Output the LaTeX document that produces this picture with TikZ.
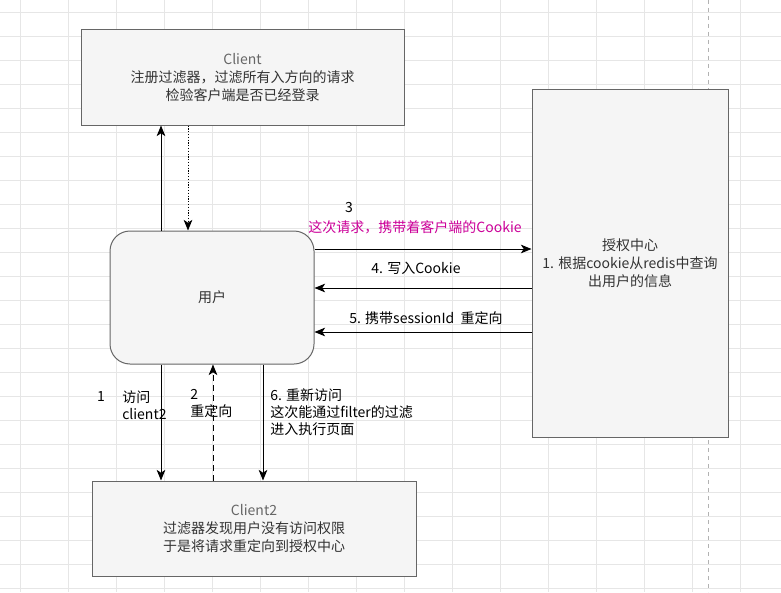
\documentclass[tikz,border=0pt]{standalone}
\usepackage{fontspec}
\setmainfont{Noto Sans CJK SC}
\usetikzlibrary{arrows.meta}
\definecolor{boxfill}{HTML}{F5F5F5}
\definecolor{boxline}{HTML}{666666}
\definecolor{txt}{HTML}{333333}
\definecolor{pinktxt}{HTML}{CC0099}
\definecolor{gridc}{HTML}{E6E6E6}
\begin{document}
\begin{tikzpicture}[x=0.75pt,y=-0.75pt,
  box/.style={draw=boxline, fill=boxfill, line width=0.75pt, text=txt, align=center,
    font=\fontsize{10.5}{13.5}\selectfont, inner sep=0pt},
  lbl/.style={font=\fontsize{10.5}{12.75}\selectfont, text=black, inner sep=0pt, align=left},
  arr/.style={line width=0.75pt, -{Stealth[length=8pt,width=6.5pt,inset=2.2pt]}}
]
\useasboundingbox[fill=white] (0,0) rectangle (781,592);
% grid
\foreach \gx in {20,68,...,740} \draw[gridc,line width=0.6pt] (\gx,0) -- (\gx,592);
\foreach \gy in {12,36,...,590} \draw[gridc,line width=0.6pt] (0,\gy) -- (781,\gy);
\draw[gray!60,dashed,line width=0.5pt] (708,0) -- (708,592);

% boxes
\node[box, minimum width=242.25pt, minimum height=71.25pt] (client) at (242.5,77.5)
  {\textcolor{boxline}{Client}\\注册过滤器，过滤所有入方向的请求\\检验客户端是否已经登录};
\node[box, rounded corners=15pt, minimum width=153pt, minimum height=99.75pt] (user) at (212,297.5)
  {用户};
\node[box, minimum width=147pt, minimum height=261pt] (auth) at (630,263)
  {授权中心\\1. 根据cookie从redis中查询\\出用户的信息};
\node[box, minimum width=243pt, minimum height=71.25pt] (client2) at (254,528.5)
  {\textcolor{boxline}{Client2}\\过滤器发现用户没有访问权限\\于是将请求重定向到授权中心};

% connectors
\draw[arr] (161,0 |- user.north) -- (161,0 |- client.south);
\draw[arr, dash pattern=on 0.9pt off 1.2pt] (188,0 |- client.south) -- (188,0 |- user.north);
\draw[arr] (user.east |- 0,249) -- (auth.west |- 0,249);
\draw[arr] (auth.west |- 0,288) -- (user.east |- 0,288);
\draw[arr] (auth.west |- 0,332) -- (user.east |- 0,332);
\draw[arr] (161,0 |- user.south) -- (161,0 |- client2.north);
\draw[arr, dash pattern=on 4.5pt off 3pt] (213,0 |- client2.north) -- (213,0 |- user.south);
\draw[arr] (263,0 |- user.south) -- (263,0 |- client2.north);

% labels
\node[lbl] (l3) at (349,208) {3};
\node[lbl, text=pinktxt] (l3b) at (415,227) {这次请求，携带着客户端的Cookie};
\node[lbl] (l4) at (416,268) {4. 写入Cookie};
\node[lbl] (l5) at (426,318) {5. 携带sessionId\ \ 重定向};
\node[lbl] (l1) at (101,397) {1};
\node[lbl, anchor=west] (l1b) at (122,405) {访问\\client2};
\node[lbl, anchor=west] (l2) at (190,403) {2\\重定向};
\node[lbl, anchor=west] (l6) at (270,412) {6. 重新访问\\这次能通过filter的过滤\\进入执行页面};
\end{tikzpicture}
\end{document}
